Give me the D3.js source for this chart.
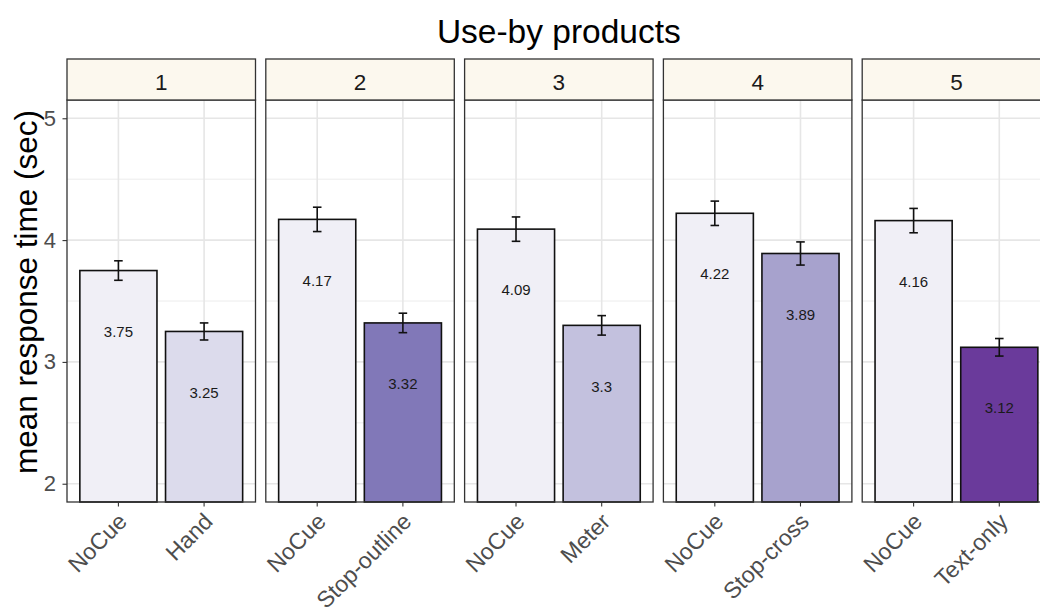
<!DOCTYPE html>
<html>
<head>
<meta charset="utf-8">
<script src="https://cdn.jsdelivr.net/npm/d3@7"></script>
<style>
  html, body { margin: 0; padding: 0; background: #fff; overflow: hidden; }
  svg { display: block; font-family: "Liberation Sans", Arial, sans-serif; }
</style>
</head>
<body>
<svg id="chart" width="1040" height="614"></svg>
<script>
// Mean response time per cue, split by product group
const panelIds = ["1", "2", "3", "4", "5"];
const cueNames = ["Hand", "Stop-outline", "Meter", "Stop-cross", "Text-only"];
const baselineName = "NoCue";
const noCueMeans = [3.75, 4.17, 4.09, 4.22, 4.16];
const cueMeans = [3.25, 3.32, 3.30, 3.89, 3.12];
const noCueErr = [0.08, 0.10, 0.10, 0.10, 0.10];
const cueErr = [0.07, 0.08, 0.08, 0.095, 0.072];
const yTicks = [2, 3, 4, 5];
const yMinor = [2.5, 3.5, 4.5];
const chartTitle = "Use-by products";
const yTitle = "mean response time (sec)";

const fillFor = {
  "NoCue": "#f0eff6",
  "Hand": "#dcdbec",
  "Meter": "#c3c1de",
  "Stop-cross": "#a7a2cd",
  "Stop-outline": "#8178b8",
  "Text-only": "#6a3a9b"
};

const svg = d3.select("#chart");

const panelLeft = 67, panelStep = 198.8, panelW = 188.5;
const panelTop = 100, panelBottom = 502;
const stripTop = 59;

const y = d3.scaleLinear().domain([1.85, 5.15]).range([panelBottom, panelTop]);

// Title, centred over the whole panel area
const areaRight = panelLeft + panelStep * (panelIds.length - 1) + panelW;
svg.append("text")
  .attr("x", (panelLeft + areaRight) / 2)
  .attr("y", 43)
  .attr("text-anchor", "middle")
  .attr("font-size", 33.5)
  .attr("fill", "#000")
  .text(chartTitle);

// Y axis title
svg.append("text")
  .attr("transform", `translate(37, 292) rotate(-90)`)
  .attr("text-anchor", "middle")
  .attr("font-size", 31.5)
  .attr("fill", "#000")
  .text(yTitle);

// Y axis on the first panel
const yAxis = svg.append("g")
  .attr("transform", `translate(${panelLeft},0)`)
  .call(d3.axisLeft(y).tickValues(yTicks).tickSize(4.5).tickPadding(6.5).tickFormat(d3.format("d")));
yAxis.select(".domain").remove();
yAxis.selectAll(".tick line").attr("stroke", "#333").attr("stroke-width", 1.1);
yAxis.selectAll(".tick text").attr("font-size", 22).attr("fill", "#4d4d4d")
  .attr("font-family", "Liberation Sans, Arial, sans-serif");

panelIds.forEach((pid, i) => {
  const x0 = panelLeft + panelStep * i;
  const cats = [baselineName, cueNames[i]];
  const means = [noCueMeans[i], cueMeans[i]];
  const errs = [noCueErr[i], cueErr[i]];
  const x = d3.scaleBand().domain(cats).range([x0, x0 + panelW])
    .paddingInner(0.1).paddingOuter(0.15);

  const g = svg.append("g");

  // panel background and grid
  g.append("rect").attr("x", x0).attr("y", panelTop)
    .attr("width", panelW).attr("height", panelBottom - panelTop).attr("fill", "#fff");
  g.selectAll("line.minor").data(yMinor).join("line")
    .attr("x1", x0).attr("x2", x0 + panelW)
    .attr("y1", d => y(d)).attr("y2", d => y(d))
    .attr("stroke", "#ececec").attr("stroke-width", 1);
  g.selectAll("line.major").data(yTicks).join("line")
    .attr("x1", x0).attr("x2", x0 + panelW)
    .attr("y1", d => y(d)).attr("y2", d => y(d))
    .attr("stroke", "#e6e6e6").attr("stroke-width", 1.6);
  g.selectAll("line.vmajor").data(cats).join("line")
    .attr("x1", d => x(d) + x.bandwidth() / 2).attr("x2", d => x(d) + x.bandwidth() / 2)
    .attr("y1", panelTop).attr("y2", panelBottom)
    .attr("stroke", "#e6e6e6").attr("stroke-width", 1.6);

  // bars, drawn from the bottom of the visible range
  const bars = cats.map((c, k) => ({ cat: c, mean: means[k], err: errs[k] }));
  g.selectAll("rect.bar").data(bars).join("rect")
    .attr("x", d => x(d.cat))
    .attr("width", x.bandwidth())
    .attr("y", d => y(d.mean))
    .attr("height", d => y(y.domain()[0]) - y(d.mean))
    .attr("fill", d => fillFor[d.cat])
    .attr("stroke", "#111").attr("stroke-width", 1.6);

  // error bars
  const capHalf = x.bandwidth() * (0.1 / 0.9) / 2;
  bars.forEach(d => {
    const cx = x(d.cat) + x.bandwidth() / 2;
    const e = g.append("g").attr("stroke", "#111").attr("stroke-width", 1.6);
    e.append("line").attr("x1", cx).attr("x2", cx).attr("y1", y(d.mean + d.err)).attr("y2", y(d.mean - d.err));
    e.append("line").attr("x1", cx - capHalf).attr("x2", cx + capHalf).attr("y1", y(d.mean + d.err)).attr("y2", y(d.mean + d.err));
    e.append("line").attr("x1", cx - capHalf).attr("x2", cx + capHalf).attr("y1", y(d.mean - d.err)).attr("y2", y(d.mean - d.err));
  });

  // value labels half a second below each bar top
  g.selectAll("text.val").data(bars).join("text")
    .attr("x", d => x(d.cat) + x.bandwidth() / 2)
    .attr("y", d => y(d.mean - 0.5))
    .attr("dy", "0.35em")
    .attr("text-anchor", "middle")
    .attr("font-size", 15)
    .attr("fill", "#1a1a1a")
    .text(d => String(d.mean));

  // panel border
  g.append("rect").attr("x", x0).attr("y", panelTop)
    .attr("width", panelW).attr("height", panelBottom - panelTop)
    .attr("fill", "none").attr("stroke", "#333").attr("stroke-width", 1.3);

  // strip
  g.append("rect").attr("x", x0).attr("y", stripTop)
    .attr("width", panelW).attr("height", panelTop - stripTop)
    .attr("fill", "#fcf8ee").attr("stroke", "#333").attr("stroke-width", 1.3);
  g.append("text")
    .attr("x", x0 + panelW / 2).attr("y", 89.5)
    .attr("text-anchor", "middle").attr("font-size", 22.5).attr("fill", "#1a1a1a")
    .text(pid);

  // x axis
  const xa = g.append("g")
    .attr("transform", `translate(0,${panelBottom})`)
    .call(d3.axisBottom(x).tickSize(4.5).tickSizeOuter(0));
  xa.select(".domain").remove();
  xa.selectAll(".tick line").attr("stroke", "#333").attr("stroke-width", 1.1);
  xa.selectAll(".tick text")
    .attr("font-size", 23).attr("fill", "#4d4d4d")
    .attr("font-family", "Liberation Sans, Arial, sans-serif")
    .attr("text-anchor", "end")
    .attr("dy", null)
    .attr("y", 0)
    .attr("transform", "translate(10,21) rotate(-45)");
});
</script>
</body>
</html>
